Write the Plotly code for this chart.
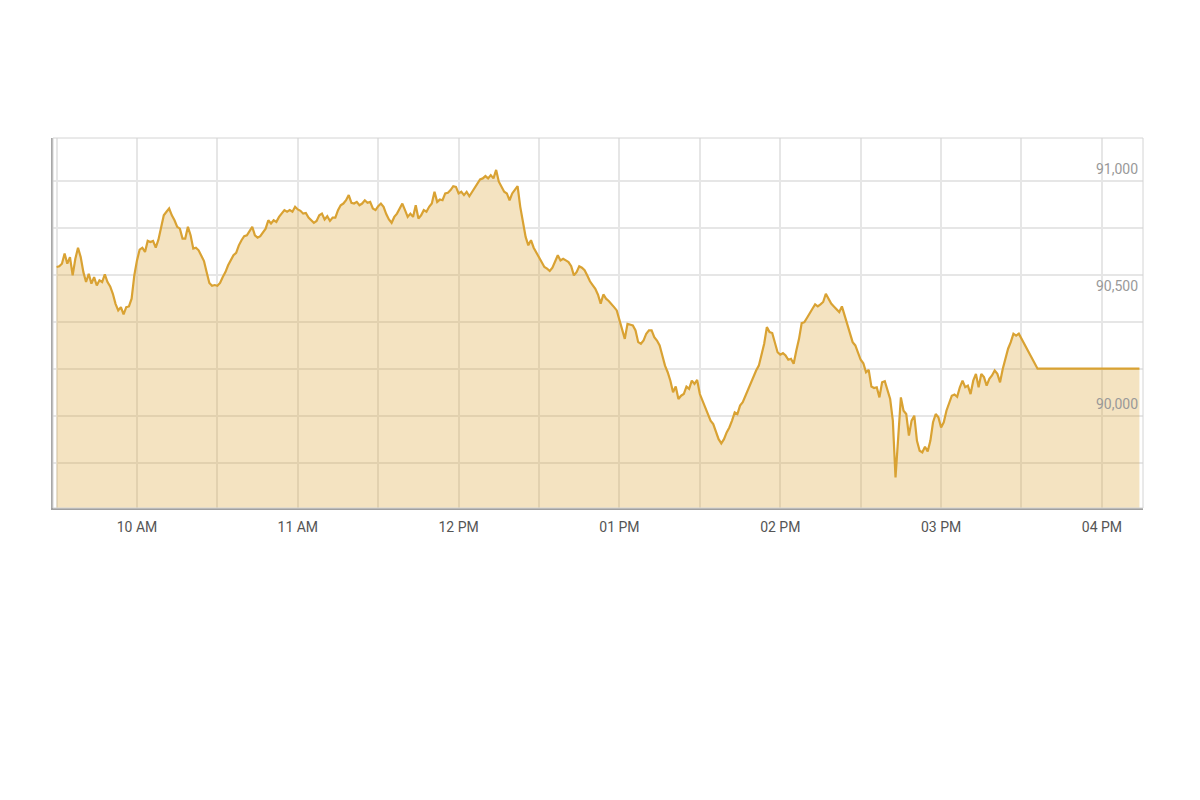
"""Intraday index chart: gold area line with right-side value labels"""

import pandas as pd
import plotly.graph_objects as go

session_date = "2024-01-02"
session_open = "09:30"

# one reading per minute from 09:30 to 15:29
index_values = [
    90633, 90636, 90647, 90690, 90647, 90675, 90597, 90668, 90715, 90675,
    90611, 90569, 90604, 90562, 90590, 90554, 90576, 90569, 90601, 90569,
    90550, 90519, 90476, 90448, 90462, 90431, 90462, 90465, 90498, 90597,
    90661, 90707, 90715, 90697, 90744, 90739, 90744, 90715, 90749, 90804,
    90853, 90868, 90882, 90853, 90832, 90804, 90796, 90754, 90754, 90804,
    90768, 90711, 90715, 90704, 90683, 90658, 90611, 90565, 90553, 90556,
    90553, 90565, 90590, 90611, 90640, 90664, 90683, 90693, 90725, 90747,
    90764, 90768, 90789, 90804, 90768, 90758, 90764, 90782, 90796, 90832,
    90818, 90832, 90825, 90846, 90860, 90875, 90868, 90875, 90868, 90889,
    90878, 90872, 90860, 90863, 90843, 90832, 90821, 90829, 90853, 90860,
    90835, 90849, 90829, 90843, 90843, 90875, 90896, 90903, 90917, 90939,
    90906, 90903, 90910, 90896, 90903, 90917, 90906, 90910, 90882, 90875,
    90892, 90903, 90889, 90858, 90835, 90821, 90846, 90860, 90882, 90903,
    90875, 90846, 90860, 90846, 90896, 90839, 90853, 90875, 90868, 90889,
    90903, 90953, 90910, 90920, 90917, 90946, 90949, 90960, 90977, 90974,
    90946, 90953, 90939, 90953, 90934, 90953, 90967, 90989, 91006, 91010,
    91020, 91010, 91024, 91010, 91046, 90996, 90977, 90953, 90946, 90917,
    90946, 90960, 90977, 90889, 90832, 90761, 90725, 90747, 90715, 90693,
    90675, 90654, 90633, 90626, 90616, 90630, 90654, 90683, 90661, 90668,
    90661, 90654, 90636, 90597, 90611, 90636, 90630, 90619, 90597, 90572,
    90556, 90540, 90515, 90477, 90516, 90498, 90488, 90477, 90462, 90448,
    90405, 90370, 90327, 90391, 90388, 90384, 90363, 90313, 90306, 90320,
    90349, 90363, 90363, 90334, 90320, 90299, 90256, 90213, 90185, 90149,
    90100, 90124, 90071, 90085, 90092, 90124, 90114, 90149, 90135, 90152,
    90092, 90064, 90036, 90014, 89979, 89964, 89936, 89900, 89882, 89900,
    89929, 89950, 89979, 90014, 90007, 90043, 90057, 90085, 90114, 90135,
    90164, 90192, 90213, 90256, 90306, 90377, 90356, 90352, 90316, 90270,
    90260, 90266, 90256, 90238, 90242, 90221, 90277, 90327, 90394, 90398,
    90417, 90434, 90455, 90474, 90465, 90474, 90484, 90519, 90498, 90477,
    90465, 90451, 90441, 90465, 90427, 90384, 90341, 90313, 90299, 90270,
    90238, 90223, 90185, 90195, 90124, 90118, 90121, 90078, 90142, 90147,
    90107, 90071, 89979, 89737, 89907, 90078, 90021, 90007, 89915, 89979,
    90000, 89893, 89851, 89844, 89868, 89848, 89893, 89972, 90007, 89993,
    89950, 89972, 90021, 90057, 90085, 90090, 90080, 90121, 90149, 90121,
    90128, 90092, 90149, 90178, 90121, 90178, 90164, 90128, 90157, 90171,
    90192, 90178, 90142, 90199, 90249, 90285, 90313, 90349, 90341, 90349,
]

# closing print carried flat to the end of the day
close_times = ["15:36", "16:14"]
close_values = [90200, 90200]

grid_levels = [89800, 90000, 90200, 90400, 90600, 90800, 91000]
label_levels = [90000, 90500, 91000]

start = pd.Timestamp(f"{session_date} {session_open}")
times = list(pd.date_range(start, periods=len(index_values), freq="min"))
times += [pd.Timestamp(f"{session_date} {t}") for t in close_times]
values = index_values + close_values

fig = go.Figure()
fig.add_trace(go.Scatter(
    x=times,
    y=values,
    mode="lines",
    line=dict(color="#D9A233", width=2.2),
    fill="tozeroy",
    fillcolor="rgba(217, 162, 51, 0.3)",
    hoverinfo="skip",
))

# value labels sit just above their level, at the right edge
for level in label_levels:
    fig.add_annotation(
        x=1, xref="paper", xanchor="right", xshift=-3,
        y=level, yref="y", yanchor="middle", yshift=12,
        text=f"{level:,}", showarrow=False,
        font=dict(family="Roboto", size=14, color="#999999"),
    )

# light frame around the plot area
fig.add_shape(
    type="rect", xref="paper", yref="paper", x0=0, x1=1, y0=0, y1=1,
    line=dict(color="#d4d4d4", width=1),
)

fig.update_layout(
    width=1200,
    height=800,
    margin=dict(l=45, r=65, t=130, b=300),
    plot_bgcolor="white",
    paper_bgcolor="white",
    showlegend=False,
    font=dict(family="Roboto"),
    xaxis=dict(
        range=[f"{session_date} 09:28:40", f"{session_date} 16:15:20"],
        tick0=f"{session_date} 10:00",
        dtick=3600000,
        tickformat="%I %p",
        tickfont=dict(size=14, color="#555555"),
        ticklabelstandoff=5,
        showgrid=True,
        gridcolor="#e6e6e6",
        gridwidth=2,
        minor=dict(dtick=1800000, tick0=f"{session_date} 10:00",
                   showgrid=True, gridcolor="#e6e6e6", gridwidth=2),
        showline=True,
        linecolor="#a0a0a0",
        linewidth=2,
        zeroline=False,
    ),
    yaxis=dict(
        range=[89607, 91182],
        tickvals=grid_levels,
        showticklabels=False,
        showgrid=True,
        gridcolor="#e6e6e6",
        gridwidth=2,
        showline=True,
        linecolor="#a8a8a8",
        linewidth=2,
        zeroline=False,
    ),
)

fig.write_html("out.html")
